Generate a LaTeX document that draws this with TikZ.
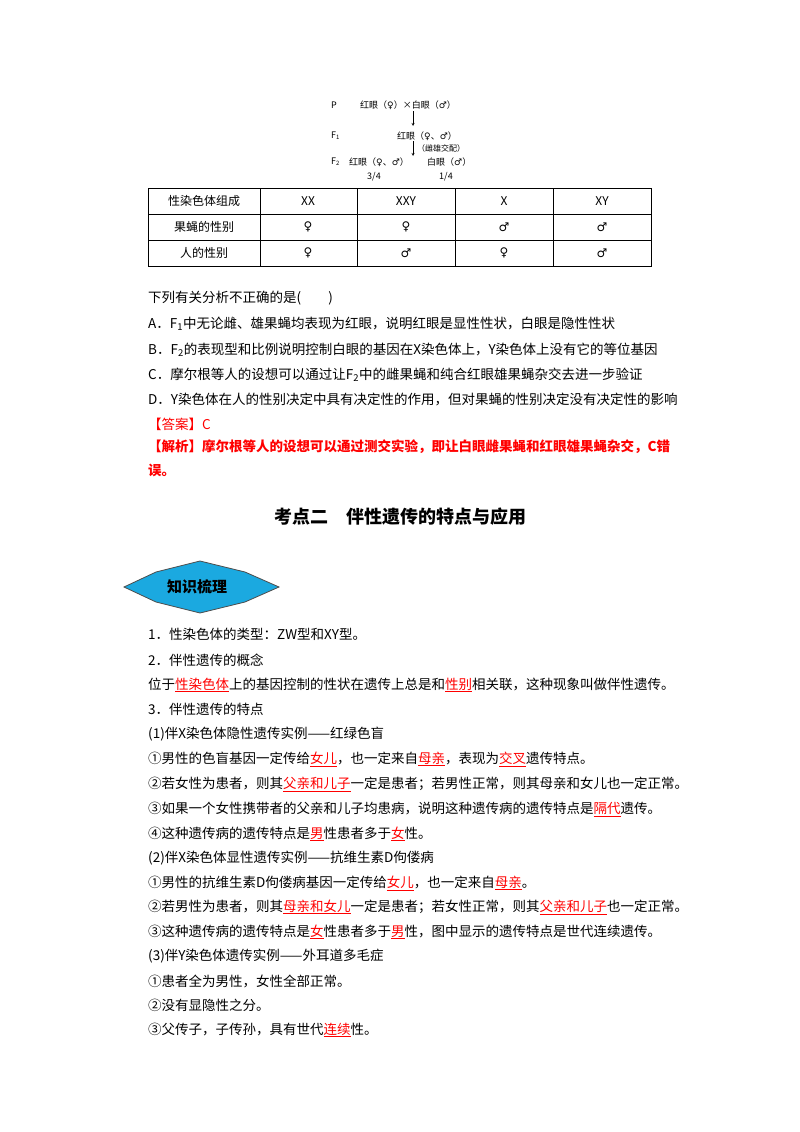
\documentclass[tikz,border=0pt]{standalone}
\usepackage{fontspec}
\setmainfont{Liberation Serif}
\newfontfamily\cjk{Noto Sans CJK SC}
\newfontfamily\sym{DejaVu Sans}
\newcommand{\F}{{\sym ♀}}
\newcommand{\M}{{\sym ♂}}
\newcommand{\ru}[1]{{\color{red}\underline{#1}}}
\begin{document}
\begin{tikzpicture}[x=1pt,y=-1pt,
  t/.style={anchor=west,inner sep=0pt,font=\cjk\fontsize{13.5}{14}\selectfont},
  s/.style={inner sep=0pt,font=\cjk\fontsize{9}{10}\selectfont},
  c/.style={inner sep=0pt,font=\cjk\fontsize{12}{13}\selectfont}]
\useasboundingbox[fill=white] (0,0) rectangle (800,1132);
% cross diagram
\node[s,anchor=west] (p) at (331,105) {P};
\node[s,anchor=west] (p1) at (360,105) {红眼（\F）×白眼（\M）};
\node[s,anchor=west] (f1) at (331,136) {F\textsubscript{1}};
\node[s,anchor=west] (f1t) at (397,136) {红眼（\F、\M）};
\node[s,anchor=west] (f2) at (331,162) {F\textsubscript{2}};
\node[s,anchor=west] (f2a) at (349,162) {红眼（\F、\M）};
\node[s,anchor=west] (f2b) at (427,162) {白眼（\M）};
\node[s,font=\cjk\fontsize{8}{9}\selectfont] (jp) at (441,148) {（雌雄交配）};
\node[s] (r1) at (374,177) {3/4};
\node[s] (r2) at (446,177) {1/4};
\coordinate (a1) at (413,111); \coordinate (a2) at (413,126);
\coordinate (b1) at (413,141); \coordinate (b2) at (413,156);
\draw[-stealth,thin] (a1)--(a2);
\draw[-stealth,thin] (b1)--(b2);
% table
\draw[line width=0.8pt] (148,188) rectangle (651,266);
\foreach \y in {214,240} \draw[line width=0.8pt] (148,\y)--(651,\y);
\foreach \x in {260,357,455,553} \draw[line width=0.8pt] (\x,188)--(\x,266);
\node[c] (h0) at (204,201) {性染色体组成};
\node[c] (h1) at (308,201) {XX};
\node[c] (h2) at (406,201) {XXY};
\node[c] (h3) at (504,201) {X};
\node[c] (h4) at (602,201) {XY};
\node[c] (g0) at (204,227) {果蝇的性别};
\node[c] (g1) at (308,227) {\F};
\node[c] (g2) at (406,227) {\F};
\node[c] (g3) at (504,227) {\M};
\node[c] (g4) at (602,227) {\M};
\node[c] (m0) at (204,253) {人的性别};
\node[c] (m1) at (308,253) {\F};
\node[c] (m2) at (406,253) {\M};
\node[c] (m3) at (504,253) {\F};
\node[c] (m4) at (602,253) {\M};
% question
\node[t] (q) at (148,298) {下列有关分析不正确的是(\quad\quad)};
\node[t] (qa) at (148,324) {A．F\textsubscript{1}中无论雌、雄果蝇均表现为红眼，说明红眼是显性性状，白眼是隐性性状};
\node[t] (qb) at (148,350) {B．F\textsubscript{2}的表现型和比例说明控制白眼的基因在X染色体上，Y染色体上没有它的等位基因};
\node[t] (qc) at (148,375) {C．摩尔根等人的设想可以通过让F\textsubscript{2}中的雌果蝇和纯合红眼雄果蝇杂交去进一步验证};
\node[t] (qd) at (148,400) {D．Y染色体在人的性别决定中具有决定性的作用，但对果蝇的性别决定没有决定性的影响};
\node[t,text=red] (ans) at (148,424) {【答案】C};
\node[t,text=red,font=\cjk\bfseries\fontsize{13.5}{14}\selectfont] (ex1) at (148,447) {【解析】摩尔根等人的设想可以通过测交实验，即让白眼雌果蝇和红眼雄果蝇杂交，C错};
\node[t,text=red,font=\cjk\bfseries\fontsize{13.5}{14}\selectfont] (ex2) at (148,470) {误。};
\node[inner sep=0pt,font=\cjk\bfseries\fontsize{18}{20}\selectfont] (title) at (400,517) {考点二\quad 伴性遗传的特点与应用};
% badge
\path[fill={rgb,255:red,27;green,169;blue,224},draw=black!70,line width=0.8pt]
  (124,587)--(156,572)--(200,561)--(245,572)--(279,587)--(245,602)--(200,613)--(156,602)--cycle;
\node[inner sep=0pt,font=\cjk\bfseries\fontsize{15}{16}\selectfont] (badge) at (197,587) {知识梳理};
% body
\node[t] (l1) at (148,634) {1．性染色体的类型：ZW型和XY型。};
\node[t] (l2) at (148,660) {2．伴性遗传的概念};
\node[t] (l3) at (148,685) {位于\ru{性染色体}上的基因控制的性状在遗传上总是和\ru{性别}相关联，这种现象叫做伴性遗传。};
\node[t] (l4) at (148,709) {3．伴性遗传的特点};
\node[t] (l5) at (148,734) {(1)伴X染色体隐性遗传实例——红绿色盲};
\node[t] (l6) at (148,759) {①男性的色盲基因一定传给\ru{女儿}，也一定来自\ru{母亲}，表现为\ru{交叉}遗传特点。};
\node[t] (l7) at (148,784) {②若女性为患者，则其\ru{父亲和儿子}一定是患者；若男性正常，则其母亲和女儿也一定正常。};
\node[t] (l8) at (148,809) {③如果一个女性携带者的父亲和儿子均患病，说明这种遗传病的遗传特点是\ru{隔代}遗传。};
\node[t] (l9) at (148,834) {④这种遗传病的遗传特点是\ru{男}性患者多于\ru{女}性。};
\node[t] (l10) at (148,858) {(2)伴X染色体显性遗传实例——抗维生素D佝偻病};
\node[t] (l11) at (148,883) {①男性的抗维生素D佝偻病基因一定传给\ru{女儿}，也一定来自\ru{母亲}。};
\node[t] (l12) at (148,907) {②若男性为患者，则其\ru{母亲和女儿}一定是患者；若女性正常，则其\ru{父亲和儿子}也一定正常。};
\node[t] (l13) at (148,932) {③这种遗传病的遗传特点是\ru{女}性患者多于\ru{男}性，图中显示的遗传特点是世代连续遗传。};
\node[t] (l14) at (148,956) {(3)伴Y染色体遗传实例——外耳道多毛症};
\node[t] (l15) at (148,981) {①患者全为男性，女性全部正常。};
\node[t] (l16) at (148,1005) {②没有显隐性之分。};
\node[t] (l17) at (148,1030) {③父传子，子传孙，具有世代\ru{连续}性。};
\end{tikzpicture}
\end{document}
